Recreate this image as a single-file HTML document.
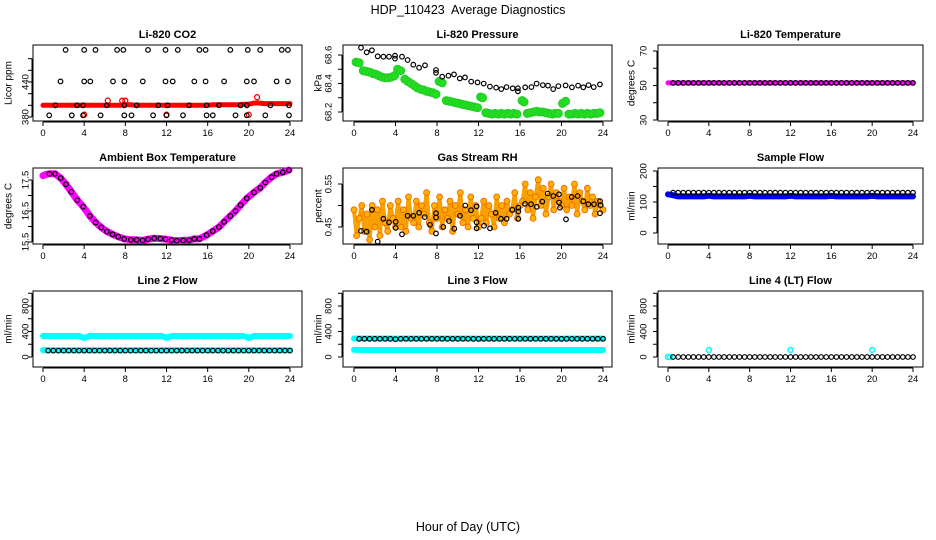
<!DOCTYPE html>
<html><head><meta charset="utf-8"><title>HDP_110423 Average Diagnostics</title>
<style>
html,body{margin:0;padding:0;background:#fff;}
svg{display:block;font-family:"Liberation Sans",Arial,sans-serif;}
</style></head>
<body>
<svg id="chart" width="936" height="540" viewBox="0 0 936 540" xmlns="http://www.w3.org/2000/svg">
<text x="468" y="14" text-anchor="middle" font-size="12.5">HDP_110423&#160; Average Diagnostics</text>
<text x="468" y="531" text-anchor="middle" font-size="12.5">Hour of Day (UTC)</text>
</svg>
<script>
// ---------- data ----------
const xTicks=[0,4,8,12,16,20,24];
const halfHours=[0,0.5,1,1.5,2,2.5,3,3.5,4,4.5,5,5.5,6,6.5,7,7.5,8,8.5,9,9.5,10,10.5,11,11.5,12,12.5,13,13.5,14,14.5,15,15.5,16,16.5,17,17.5,18,18.5,19,19.5,20,20.5,21,21.5,22,22.5,23,23.5,24];
const blackHours=[0.5,1,1.5,2,2.5,3,3.5,4,4.5,5,5.5,6,6.5,7,7.5,8,8.5,9,9.5,10,10.5,11,11.5,12,12.5,13,13.5,14,14.5,15,15.5,16,16.5,17,17.5,18,18.5,19,19.5,20,20.5,21,21.5,22,22.5,23,23.5,24];

// CO2
const co2BlackT=[2.2,4.0,5.1,7.2,7.8,10.2,11.9,13.1,15.2,15.8,18.2,19.9,21.1,23.2,23.8, 1.7,4.0,4.6,6.8,7.9,9.7,11.9,12.6,14.7,15.8,17.6,19.8,20.5,22.7,23.8, 1.2,3.3,3.9,6.2,7.9,9.1,11.2,12.1,14.2,15.9,17.1,19.2,19.8,22.1,23.9, 0.6,2.8,3.9,5.6,7.9,8.6,10.7,12.0,13.6,15.9,16.5,18.7,19.8,21.6,23.9];
const co2BlackV=[495,495,495,495,495,495,495,495,495,495,495,495,495,495,495, 441,441,441,441,441,441,441,441,441,441,441,441,441,441,441, 400,400,400,400,400,400,400,400,400,400,400,400,400,400,400, 383,383,383,383,383,383,383,383,383,383,383,383,383,383,383];
const co2Red=[400,400,400,400,400,400,400,400,400,400,400,400,400,400,400,400,401,401,400,400,400,400,400,400,400,400,400,400,400,400,400,400,400,401,401,401,401,401,401,402,402,404,404,403,403,403,403,403,403];
const co2RedOutT=[4.0,6.3,7.7,8.0,12.0,20.0,20.8];
const co2RedOutV=[384,408,408,408,384,384,414];

// Pressure
const presBlackT=[0.67,1.22,1.73,2.28,2.83,3.37,3.95,3.95,4.63,5.17,5.72,6.27,6.84,7.9,7.9,8.5,9.1,9.64,10.2,10.7,11.3,11.9,12.5,13.1,13.7,14.2,14.7,15.3,15.8,15.8,16.5,17.1,17.6,18.2,18.7,19.2,19.7,20.4,21.0,21.6,22.1,22.6,23.1,23.7];
const presBlackV=[68.651,68.619,68.633,68.591,68.588,68.588,68.595,68.575,68.588,68.565,68.532,68.511,68.528,68.495,68.475,68.448,68.455,68.464,68.436,68.443,68.413,68.408,68.399,68.378,68.371,68.361,68.375,68.366,68.366,68.345,68.373,68.375,68.399,68.389,68.385,68.361,68.382,68.387,68.373,68.385,68.373,68.389,68.375,68.394];
const presGreenT=[0.2,0.5,0.9,1.2,1.5,1.8,2.1,2.4,2.7,3.0,3.3,3.6,3.9,4.2,4.5,4.9,5.2,5.5,5.8,6.1,6.4,6.7,7.0,7.3,7.6,7.9,8.2,8.5,8.9,9.2,9.5,9.8,10.1,10.4,10.7,11.0,11.3,11.6,11.9,12.2,12.4,12.7,13.0,13.3,13.6,13.9,14.2,14.5,14.8,15.1,15.4,15.7,16.2,16.4,16.7,17.0,17.3,17.6,17.9,18.2,18.5,18.8,19.1,19.4,19.7,20.1,20.4,20.7,21.0,21.3,21.6,21.9,22.2,22.5,22.8,23.1,23.4,23.7];
const presGreenV=[68.55,68.545,68.49,68.485,68.48,68.47,68.465,68.455,68.445,68.44,68.44,68.445,68.455,68.5,68.49,68.43,68.415,68.40,68.385,68.37,68.36,68.355,68.345,68.34,68.335,68.325,68.415,68.405,68.28,68.275,68.27,68.265,68.26,68.255,68.25,68.245,68.24,68.235,68.23,68.305,68.3,68.195,68.19,68.185,68.19,68.185,68.19,68.185,68.19,68.185,68.19,68.185,68.28,68.27,68.19,68.195,68.2,68.205,68.2,68.2,68.195,68.19,68.185,68.19,68.19,68.26,68.275,68.185,68.185,68.19,68.185,68.19,68.185,68.19,68.185,68.19,68.19,68.195];

// Li-820 temperature
const tempMagenta=[51.5,51.5,51.5,51.5,51.5,51.5,51.5,51.5,51.5,51.5,51.5,51.5,51.5,51.5,51.5,51.5,51.5,51.5,51.5,51.5,51.5,51.5,51.5,51.5,51.5,51.5,51.5,51.5,51.5,51.5,51.5,51.5,51.5,51.5,51.5,51.5,51.5,51.5,51.5,51.5,51.5,51.5,51.5,51.5,51.5,51.5,51.5,51.5,51.5];
const tempBlack=[51.5,51.5,51.5,51.5,51.5,51.5,51.5,51.5,51.5,51.5,51.5,51.5,51.5,51.5,51.5,51.5,51.5,51.5,51.5,51.5,51.5,51.5,51.5,51.5,51.5,51.5,51.5,51.5,51.5,51.5,51.5,51.5,51.5,51.5,51.5,51.5,51.5,51.5,51.5,51.5,51.5,51.5,51.5,51.5,51.5,51.5,51.5,51.5];

// Ambient box temperature
const ambT=[0.61,1.17,1.72,2.23,2.75,3.33,3.91,4.56,5.12,5.66,6.21,6.76,7.31,7.89,8.54,9.10,9.68,10.2,10.8,11.4,11.9,12.5,13.0,13.6,14.2,14.7,15.2,15.9,16.5,17.1,17.6,18.2,18.7,19.2,19.8,20.5,21.1,21.6,22.2,22.7,23.3,23.9];
const ambV=[17.70,17.70,17.56,17.36,17.12,16.85,16.64,16.34,16.13,15.97,15.84,15.75,15.67,15.60,15.57,15.57,15.55,15.59,15.62,15.61,15.59,15.56,15.54,15.55,15.56,15.60,15.60,15.72,15.85,15.98,16.15,16.34,16.50,16.69,16.91,17.10,17.25,17.42,17.59,17.70,17.75,17.82];
const ambMagT=[0.0,0.3,0.61,1.17,1.72,2.23,2.75,3.33,3.91,4.56,5.12,5.66,6.21,6.76,7.31,7.89,8.54,9.10,9.68,10.2,10.8,11.4,11.9,12.5,13.0,13.6,14.2,14.7,15.2,15.9,16.5,17.1,17.6,18.2,18.7,19.2,19.8,20.5,21.1,21.6,22.2,22.7,23.3,23.9];
const ambMagV=[17.64,17.68,17.70,17.70,17.56,17.36,17.12,16.85,16.64,16.34,16.13,15.97,15.84,15.75,15.67,15.60,15.57,15.57,15.55,15.59,15.62,15.61,15.59,15.56,15.54,15.55,15.56,15.60,15.60,15.72,15.85,15.98,16.15,16.34,16.50,16.69,16.91,17.10,17.25,17.42,17.59,17.70,17.75,17.82];

// Gas stream RH
const rhBlackT=[0.67,1.22,1.73,2.28,2.83,3.37,4.02,4.02,4.63,5.17,5.72,6.27,6.81,7.33,7.90,7.90,7.90,8.61,9.16,9.67,10.22,10.73,11.28,11.82,11.82,11.82,12.53,13.11,13.65,14.17,14.71,15.26,15.84,15.84,15.84,16.48,17.06,17.61,18.15,18.67,19.21,19.76,19.76,19.86,20.43,20.98,21.56,22.1,22.58,23.13,23.71,23.71,23.77];
const rhBlackV=[0.441,0.439,0.490,0.416,0.469,0.461,0.448,0.462,0.433,0.476,0.476,0.483,0.473,0.455,0.482,0.435,0.472,0.450,0.464,0.446,0.476,0.500,0.489,0.498,0.461,0.447,0.453,0.447,0.483,0.469,0.469,0.490,0.495,0.486,0.469,0.504,0.503,0.497,0.509,0.528,0.522,0.526,0.507,0.495,0.468,0.520,0.522,0.510,0.503,0.503,0.510,0.482,0.501];
const rhOrangeT=[0,0.25,0.5,0.75,1,1.25,1.5,1.75,2,2.25,2.5,2.75,3,3.25,3.5,3.75,4,4.25,4.5,4.75,5,5.25,5.5,5.75,6,6.25,6.5,6.75,7,7.25,7.5,7.75,8,8.25,8.5,8.75,9,9.25,9.5,9.75,10,10.25,10.5,10.75,11,11.25,11.5,11.75,12,12.25,12.5,12.75,13,13.25,13.5,13.75,14,14.25,14.5,14.75,15,15.25,15.5,15.75,16,16.25,16.5,16.75,17,17.25,17.5,17.75,18,18.25,18.5,18.75,19,19.25,19.5,19.75,20,20.25,20.5,20.75,21,21.25,21.5,21.75,22,22.25,22.5,22.75,23,23.25,23.5,23.75,24];
const rhOrangeV=[0.49,0.43,0.47,0.50,0.44,0.48,0.42,0.50,0.45,0.49,0.43,0.51,0.46,0.44,0.50,0.47,0.45,
0.51,0.45,0.49,0.44,0.52,0.47,0.46,0.51,0.45,0.50,0.48,0.53,0.46,0.44,0.50,0.47,
0.52,0.45,0.49,0.47,0.51,0.44,0.50,0.48,0.53,0.46,0.49,0.45,0.52,0.47,0.50,0.45,
0.47,0.51,0.46,0.50,0.48,0.45,0.52,0.47,0.50,0.46,0.51,0.48,0.49,0.53,0.47,0.50,
0.51,0.55,0.49,0.53,0.47,0.52,0.56,0.50,0.54,0.48,0.52,0.55,0.49,0.53,0.51,0.50,
0.54,0.49,0.52,0.50,0.55,0.48,0.53,0.51,0.49,0.54,0.50,0.52,0.48,0.51,0.50,0.49];

// Sample flow
const sampleBlue=[125,122,118,118,118,118,118,118,120,118,118,118,118,118,118,118,120,118,118,118,118,118,118,118,120,118,118,118,118,118,118,118,120,118,118,118,118,118,118,118,120,118,118,118,118,118,118,118,118];
const sampleBlack=[130,130,130,130,130,130,130,130,130,130,130,130,130,130,130,130,130,130,130,130,130,130,130,130,130,130,130,130,130,130,130,130,130,130,130,130,130,130,130,130,130,130,130,130,130,130,130,130];

// Line 2 flow
const line2CyanHigh=[330,330,330,330,330,330,330,330,300,330,330,330,330,330,330,330,330,330,330,330,330,330,330,330,300,330,330,330,330,330,330,330,330,330,330,330,330,330,330,330,300,330,330,330,330,330,330,330,330];
const line2CyanLow=[108,105,105,105,105,105,105,105,105,105,105,105,105,105,105,105,105,105,105,105,105,105,105,105,105,105,105,105,105,105,105,105,105,105,105,105,105,105,105,105,105,105,105,105,105,105,105,105,105];
const line2Black=[100,100,100,100,100,100,100,100,100,100,100,100,100,100,100,100,100,100,100,100,100,100,100,100,100,100,100,100,100,100,100,100,100,100,100,100,100,100,100,100,100,100,100,100,100,100,100,100];

// Line 3 flow
const line3CyanHigh=[290,290,290,290,290,290,290,290,285,290,290,290,290,290,290,290,290,290,290,290,290,290,290,290,285,290,290,290,290,290,290,290,290,290,290,290,290,290,290,290,285,290,290,290,290,290,290,290,290];
const line3CyanLow=[115,112,110,110,110,110,110,110,110,110,110,110,110,110,110,110,110,110,110,110,110,110,110,110,110,110,110,110,110,110,110,110,110,110,110,110,110,110,110,110,110,110,110,110,110,110,110,110,110];
const line3Black=[285,285,285,285,285,285,285,280,285,285,285,285,285,285,285,285,285,285,285,285,285,285,285,285,285,285,285,285,285,285,285,285,285,285,285,285,285,285,285,285,285,285,285,285,285,285,285,285];

// Line 4 flow
const line4CyanT=[0,0.2,4,12,20];
const line4CyanV=[0,0,110,110,110];
const line4Black=[0,0,0,0,0,0,0,0,0,0,0,0,0,0,0,0,0,0,0,0,0,0,0,0,0,0,0,0,0,0,0,0,0,0,0,0,0,0,0,0,0,0,0,0,0,0,0,0];

// tick values
const co2Ticks=[380,400,420,440,460,480], co2Labels=[380,440];
const presTicks=[68.2,68.3,68.4,68.5,68.6], presLabels=[68.2,68.4,68.6];
const tempTicks=[30,40,50,60,70], tempLabels=[30,50,70];
const ambTicks=[15.5,16,16.5,17,17.5], ambLabels=[15.5,16.5,17.5];
const rhTicks=[0.45,0.50,0.55], rhLabels=[0.45,0.55];
const sampleTicks=[0,50,100,150,200], sampleLabels=[0,100,200];
const flowTicks=[0,200,400,600,800,1000], flowLabels=[0,400,800];

// ---------- drawing ----------
const NS='http://www.w3.org/2000/svg';
const svg=document.getElementById('chart');
function mk(tag,attrs,parent){const e=document.createElementNS(NS,tag);for(const k in attrs)e.setAttribute(k,attrs[k]);(parent||svg).appendChild(e);return e;}
const cols=[{l:33,r:302,x0:43,x24:290,lab:25,tit:8},{l:343,r:612,x0:354,x24:603,lab:328,tit:318},{l:658,r:923,x0:668,x24:913,lab:643,tit:631}];
const rows=[{t:45,b:121},{t:168,b:244},{t:291,b:367}];
function fmt(v){return String(v);}

function panel(ci,ri,name,title,ylab,v0,p0,v1,p1,ticks,labels){
  const c=cols[ci],r=rows[ri];
  const g=mk('g',{});
  
  
  const X=t=>c.x0+(c.x24-c.x0)*t/24;
  const Y=v=>p0+(p1-p0)*(v-v0)/(v1-v0);
  const box=mk('rect',{x:c.l,y:r.t,width:c.r-c.l,height:r.b-r.t,fill:'none',stroke:'#000','stroke-width':1},g);
  
  
  const tt=mk('text',{x:(c.l+c.r)/2,y:r.t-7,'text-anchor':'middle','font-size':11,'font-weight':'bold'},g);
  tt.textContent=title;
  
  
  const xa=mk('g',{},g);
  
  
  mk('line',{x1:X(0),x2:X(24),y1:r.b+1,y2:r.b+1,stroke:'#000'},xa);
  xTicks.forEach(t=>{
    mk('line',{x1:X(t),x2:X(t),y1:r.b+1,y2:r.b+5,stroke:'#000'},xa);
    const lb=mk('text',{x:X(t),y:r.b+15,'text-anchor':'middle','font-size':9.5},xa);
    lb.textContent=fmt(t);
    
    
  });
  const ya=mk('g',{},g);
  
  
  mk('line',{x1:c.l-1,x2:c.l-1,y1:Y(ticks[0]),y2:Y(ticks[ticks.length-1]),stroke:'#000'},ya);
  ticks.forEach(v=>{mk('line',{x1:c.l-5,x2:c.l-1,y1:Y(v),y2:Y(v),stroke:'#000'},ya);});
  labels.forEach(v=>{
    const y=Y(v);
    const lb=mk('text',{x:c.lab,y:y,'text-anchor':'middle','font-size':9.5,transform:`rotate(-90 ${c.lab} ${y})`,dy:'0.35em'},ya);
    lb.textContent=fmt(v);
    
    
  });
  const ym=(r.t+r.b)/2;
  const yt=mk('text',{x:c.tit,y:ym,'text-anchor':'middle','font-size':10,transform:`rotate(-90 ${c.tit} ${ym})`,dy:'0.35em'},g);
  yt.textContent=ylab;
  
  
  return {g,X,Y};
}
function band(p,name,ts,vs,color,w){
  const pts=ts.map((t,i)=>p.X(t).toFixed(1)+','+p.Y(vs[i]).toFixed(1)).join(' ');
  const pl=mk('polyline',{points:pts,fill:'none',stroke:color,'stroke-width':w,'stroke-linecap':'round','stroke-linejoin':'round'},p.g);
  
  
}
function dots(p,name,ts,vs,opt){
  const gg=mk('g',{},p.g);
  
  
  ts.forEach((t,i)=>{
    const c=mk('circle',{cx:p.X(t).toFixed(1),cy:p.Y(vs[i]).toFixed(1),r:opt.r,fill:opt.fill||'none',stroke:opt.stroke||'none','stroke-width':opt.sw||1.2},gg);
    
    
  });
}
const BLK={r:2.3,stroke:'#000',sw:1.2};

let p=panel(0,0,'co2','Li-820 CO2','Licor ppm',380,117,440,82,co2Ticks,co2Labels);
band(p,'co2-red-band',halfHours,co2Red,'#ff0000',5);
dots(p,'co2-red-outliers',co2RedOutT,co2RedOutV,{r:2.5,stroke:'#ff0000',sw:1.3});
dots(p,'co2-black-points',co2BlackT,co2BlackV,BLK);

p=panel(1,0,'pressure','Li-820 Pressure','kPa',68.6,55,68.2,112,presTicks,presLabels);
dots(p,'pressure-green-points',presGreenT,presGreenV,{r:4,fill:'#22dd22',stroke:'#22cc22',sw:1});
dots(p,'pressure-black-points',presBlackT,presBlackV,BLK);

p=panel(2,0,'li820-temp','Li-820 Temperature','degrees C',70,51,30,120,tempTicks,tempLabels);
band(p,'temp-magenta-band',halfHours,tempMagenta,'#ff00ff',5);
dots(p,'temp-black-points',blackHours,tempBlack,BLK);

p=panel(0,1,'ambient-temp','Ambient Box Temperature','degrees C',17.5,180,15.5,242,ambTicks,ambLabels);
band(p,'ambient-magenta-band',ambMagT,ambMagV,'#ff00ff',7);
dots(p,'ambient-black-points',ambT,ambV,BLK);

p=panel(1,1,'gas-rh','Gas Stream RH','percent',0.55,184,0.45,227,rhTicks,rhLabels);
band(p,'rh-orange-band',rhOrangeT,rhOrangeV,'#f7a000',4);
dots(p,'rh-orange-points',rhOrangeT,rhOrangeV,{r:3,fill:'#ffb000',stroke:'#f06000',sw:0.8});
dots(p,'rh-black-points',rhBlackT,rhBlackV,BLK);

p=panel(2,1,'sample-flow','Sample Flow','ml/min',200,171,0,233,sampleTicks,sampleLabels);
band(p,'sample-blue-band',halfHours,sampleBlue,'#0000ff',6);
dots(p,'sample-black-points',blackHours,sampleBlack,BLK);

p=panel(0,2,'line2-flow','Line 2 Flow','ml/min',0,357,800,306,flowTicks,flowLabels);
band(p,'line2-cyan-high',halfHours,line2CyanHigh,'#00ffff',6);
band(p,'line2-cyan-low',halfHours,line2CyanLow,'#00ffff',6);
dots(p,'line2-black-points',blackHours,line2Black,BLK);

p=panel(1,2,'line3-flow','Line 3 Flow','ml/min',0,357,800,306,flowTicks,flowLabels);
band(p,'line3-cyan-high',halfHours,line3CyanHigh,'#00ffff',6);
band(p,'line3-cyan-low',halfHours,line3CyanLow,'#00ffff',6);
dots(p,'line3-black-points',blackHours,line3Black,BLK);

p=panel(2,2,'line4-flow','Line 4 (LT) Flow','ml/min',0,357,800,306,flowTicks,flowLabels);
dots(p,'line4-cyan-points',line4CyanT,line4CyanV,{r:2.5,stroke:'#00ffff',sw:1.5});
dots(p,'line4-black-points',blackHours,line4Black,BLK);
</script>
</body></html>
